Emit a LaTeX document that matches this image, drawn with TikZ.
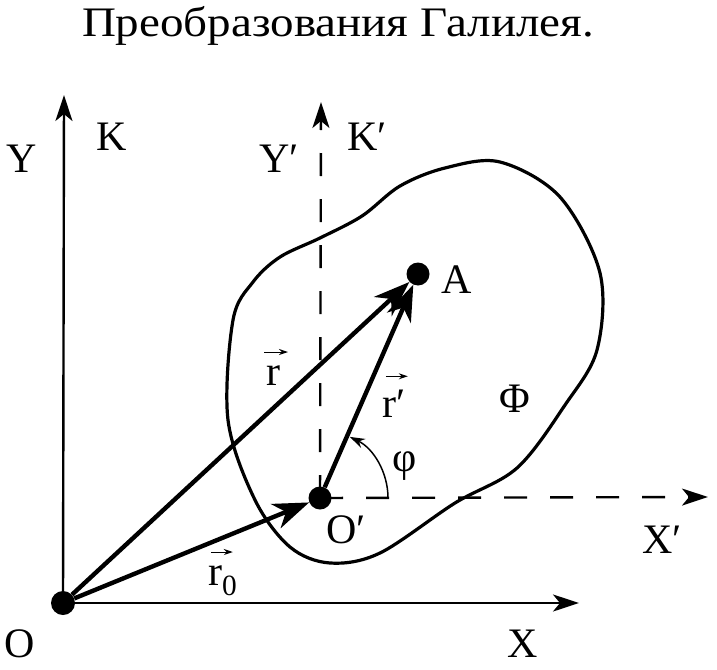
\documentclass[tikz,border=0pt]{standalone}
\usepackage{fontspec}
\setmainfont{Liberation Serif}
\usetikzlibrary{arrows.meta}
\begin{document}
\begin{tikzpicture}[x=1pt,y=-1pt,
  every node/.style={font=\fontsize{42}{46}\selectfont,inner sep=0pt},
  dot/.style={circle,fill=black,minimum size=23pt},
  axis/.style={line width=2.4pt,-{Stealth[length=26pt,width=17pt,inset=7pt]}},
  dashaxis/.style={axis,dash pattern=on 23pt off 23pt},
  vect/.style={line width=4.4pt,-{Stealth[length=36pt,width=26pt,inset=11pt]}},
  vecarrow/.style={line width=1pt,-{Stealth[length=9pt,width=6pt]}}]
\useasboundingbox (0,0) rectangle (717,669);

% title
\node[anchor=base,xscale=1.12] (title) at (338,37) {Преобразования Галилея.};

% points
\node[dot,minimum size=24pt] (O) at (63,603) {};
\node[dot] (O1) at (320,498) {};
\node[dot] (A) at (418,274) {};
\coordinate (Ytip) at (64,95);
\coordinate (Xtip) at (579,603);
\coordinate (Y1tip) at (321,102);
\coordinate (X1tip) at (708,497);

% outline of the body
\draw[line width=3.2pt] plot[smooth cycle,tension=0.55] coordinates {
  (233,320) (253,282) (280,257) (320,238) (362,216) (400,186) (445,168)
  (500,162) (560,197) (600,273) (597,350) (565,405) (517,468) (455,503)
  (380,553) (330,563) (290,547) (255,500) (228,420)};

% axes
\draw[axis] (O.center) -- (Ytip);
\draw[axis] (O.center) -- (Xtip);
\draw[dashaxis] (O1.center) -- (Y1tip);
\draw[dashaxis] (O1.center) -- (X1tip);

% vectors
\draw[vect] (O) -- (A);
\draw[vect] (O1) -- (A);
\draw[vect] (O) -- (O1);

% angle
\draw[line width=1.5pt,-{Stealth[length=15pt,width=10pt]}] (388,498) arc[start angle=0,end angle=-64,radius=68];

% labels
\node[anchor=base] (Ylab) at (22,172) {Y};
\node[anchor=base] (Klab) at (112,150) {K};
\node[anchor=base west] (Y1lab) at (259,172) {Y′};
\node[anchor=base west] (K1lab) at (347,150) {K′};
\node[anchor=base] (Olab) at (20,657) {O};
\node[anchor=base west] (O1lab) at (326,543) {O′};
\node[anchor=base] (Xlab) at (523,657) {X};
\node[anchor=base west] (X1lab) at (642,553) {X′};
\node[anchor=base] (Alab) at (457,293) {A};
\node (Philab) at (515,399) {Φ};
\node (philab) at (405,466) {φ};
\node[anchor=base] (rlab) at (273,385) {r};
\node[anchor=base west] (r1lab) at (382,417) {r′};
\node[anchor=base west] (r0lab) at (208,585) {r\textsubscript{0}};
\draw[vecarrow] ([shift={(-9pt,13pt)}]rlab.north) -- ++(24pt,0);
\draw[vecarrow] ([shift={(-8pt,13pt)}]r1lab.north) -- ++(22pt,0);
\draw[vecarrow] ([shift={(-12pt,13pt)}]r0lab.north) -- ++(22pt,0);
\end{tikzpicture}
\end{document}
